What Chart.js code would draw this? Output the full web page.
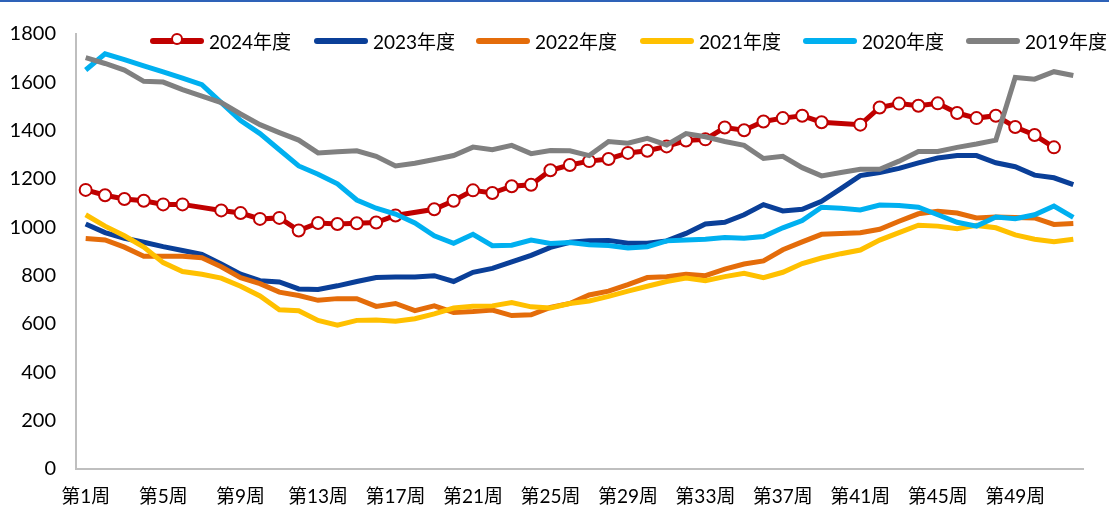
<!DOCTYPE html>
<html>
<head>
<meta charset="utf-8">
<script src="https://cdn.jsdelivr.net/npm/chart.js@4.4.1/dist/chart.umd.min.js"></script>
<style>
  body { margin: 0; background: #fff; }
  .wrap { position: relative; width: 1109px; height: 514px; box-sizing: border-box; border-top: 2px solid #2E62B8; }
  #legend { position: absolute; top: 25px; left: 0; width: 1109px; font: 19px Lato, "Noto Sans CJK SC", sans-serif; color: #000; }
  #legend .item { position: absolute; top: 0; display: flex; align-items: center; white-space: nowrap; }
  #legend .sw { position: relative; width: 54px; height: 6px; border-radius: 3px; margin-right: 5px; }
  #legend .dot { position: absolute; left: 21px; top: -5px; width: 12px; height: 12px; box-sizing: border-box; border-radius: 50%; background: #fff; border: 2px solid #C00000; }
</style>
</head>
<body>
<div class="wrap">
  <canvas id="myChart" width="1109" height="512"></canvas>
  <div id="legend"></div>
</div>
<script>
const weeks = [];
for (let i = 1; i <= 52; i++) weeks.push("第" + i + "周");

const seriesNames = ["2024年度", "2023年度", "2022年度", "2021年度", "2020年度", "2019年度"];
const seriesColors = ["#C00000", "#0A3F98", "#E46C0A", "#FFC000", "#00B0F0", "#808080"];

const y2024 = [1155, 1133, 1117, 1110, 1095, 1095, null, 1070, 1059, 1035, 1039, 987, 1018,
  1014, 1017, 1020, 1049, null, 1075, 1110, 1153, 1142, 1170, 1176, 1236, 1258,
  1274, 1283, 1308, 1317, 1335, 1359, 1364, 1413, 1402, 1438, 1452, 1462, 1435,
  null, 1425, 1496, 1512, 1503, 1513, 1473, 1452, 1462, 1415, 1382, 1331];
const y2023 = [1014, 978, 955, 938, 920, 904, 888, 848, 806, 779, 774, 745, 743,
  758, 776, 792, 794, 794, 800, 776, 814, 830, 857, 884, 917, 938,
  944, 946, 934, 934, 944, 975, 1014, 1021, 1052, 1094, 1068, 1075, 1108,
  1160, 1214, 1227, 1244, 1267, 1287, 1297, 1297, 1267, 1251, 1216, 1205, 1177];
const y2022 = [954, 948, 918, 880, 880, 880, 874, 837, 792, 767, 732, 718, 698,
  705, 705, 673, 685, 655, 675, 648, 652, 658, 635, 638, 669, 685,
  720, 736, 763, 792, 796, 806, 800, 827, 848, 861, 907, 940, 971,
  974, 978, 992, 1025, 1056, 1066, 1059, 1039, 1043, 1041, 1039, 1012, 1016];
const y2021 = [1052, 1005, 965, 918, 854, 817, 806, 790, 756, 716, 659, 655, 615,
  595, 615, 617, 611, 622, 642, 666, 673, 675, 689, 671, 666, 685,
  695, 714, 736, 756, 776, 790, 779, 796, 810, 792, 814, 850, 873,
  891, 906, 947, 978, 1009, 1005, 994, 1008, 998, 969, 951, 940, 951];
const y2020 = [1651, 1718, 1694, 1668, 1643, 1617, 1590, 1516, 1442, 1388, 1321, 1254, 1220,
  1180, 1113, 1079, 1055, 1018, 965, 934, 971, 924, 926, 947, 933, 937,
  928, 925, 915, 920, 944, 948, 951, 958, 955, 962, 998, 1028, 1083,
  1079, 1072, 1092, 1090, 1083, 1052, 1021, 1005, 1043, 1036, 1052, 1088, 1041];
const y2019 = [1702, 1678, 1651, 1604, 1601, 1570, 1543, 1516, 1469, 1425, 1392, 1361, 1308,
  1313, 1317, 1294, 1254, 1265, 1281, 1297, 1332, 1321, 1339, 1305, 1318, 1317,
  1297, 1355, 1348, 1368, 1341, 1388, 1375, 1355, 1339, 1285, 1294, 1247, 1213,
  1227, 1240, 1240, 1274, 1314, 1314, 1331, 1345, 1361, 1620, 1613, 1644, 1628];

const yTicks = [0, 200, 400, 600, 800, 1000, 1200, 1400, 1600, 1800];
const allSeries = [y2024, y2023, y2022, y2021, y2020, y2019];

const fontFamily = 'Lato, "Noto Sans CJK SC", sans-serif';

const datasets = allSeries.map((d, i) => {
  const isMarked = i === 0;
  return {
    label: seriesNames[i],
    data: d,
    borderColor: seriesColors[i],
    backgroundColor: isMarked ? "#FFFFFF" : seriesColors[i],
    borderWidth: 5,
    pointRadius: isMarked ? 6 : 0,
    pointBorderWidth: 2,
    pointBorderColor: seriesColors[i],
    pointBackgroundColor: "#FFFFFF",
    spanGaps: true,
    tension: 0,
    order: 5 - i,
  };
});

new Chart("myChart", {
  type: "line",
  data: { labels: weeks, datasets: datasets },
  options: {
    responsive: false,
    animation: false,
    layout: { padding: { top: 21, right: 26, left: 0, bottom: 0 } },
    plugins: { legend: { display: false }, tooltip: { enabled: false } },
    scales: {
      x: {
        offset: true,
        grid: { display: false, drawTicks: false },
        border: { color: "#BFBFBF", width: 2 },
        ticks: {
          autoSkip: false,
          maxRotation: 0,
          padding: 16,
          color: "#000",
          font: { family: fontFamily, size: 19 },
          callback: function (v, idx) { return idx % 4 === 0 ? weeks[idx] : ""; },
        },
        afterFit: function (s) { s.height = 45; },
      },
      y: {
        min: 0,
        max: 1800,
        afterBuildTicks: function (s) { s.ticks = yTicks.map((v) => ({ value: v })); },
        grid: { display: false, drawTicks: false },
        border: { color: "#BFBFBF", width: 2 },
        ticks: {
          padding: 20,
          color: "#000",
          font: { family: fontFamily, size: 20 },
          callback: function (v) { return String(v); },
        },
        afterFit: function (s) { s.width = 76; },
      },
    },
  },
});

// legend drawn over the plot like the original
const legendX = [150, 314, 476, 640, 803, 966];
const legend = document.getElementById("legend");
seriesNames.forEach((name, i) => {
  const item = document.createElement("div");
  item.className = "item";
  item.style.left = legendX[i] + "px";
  const sw = document.createElement("span");
  sw.className = "sw";
  sw.style.background = seriesColors[i];
  if (i === 0) {
    const dot = document.createElement("span");
    dot.className = "dot";
    sw.appendChild(dot);
  }
  item.appendChild(sw);
  item.appendChild(document.createTextNode(name));
  legend.appendChild(item);
});
</script>
</body>
</html>
